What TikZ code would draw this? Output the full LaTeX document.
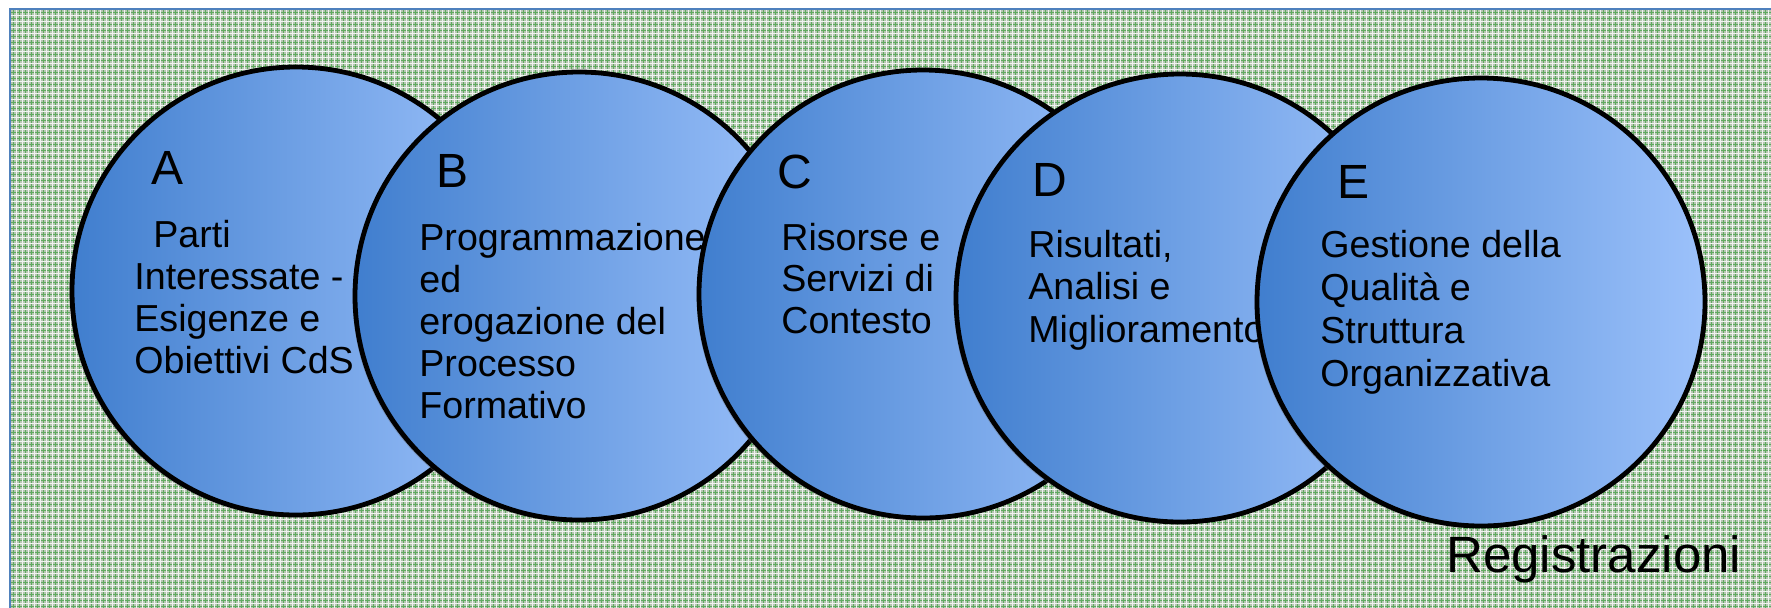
\documentclass[tikz,border=0pt]{standalone}
\usepackage{fontspec}
\setmainfont{Liberation Sans}
\usetikzlibrary{shadows}
\definecolor{cl}{RGB}{64,126,206}
\definecolor{cr}{RGB}{157,194,251}
\definecolor{bgbase}{RGB}{182,198,178}
\definecolor{gline}{RGB}{95,170,95}
\definecolor{wline}{RGB}{240,244,240}
\definecolor{frame}{RGB}{79,129,189}
\tikzset{
  disc/.style={circle,draw=black,line width=2.4pt,left color=cl,right color=cr,
    minimum size=224pt,inner sep=0pt,
    drop shadow={shadow xshift=-1.2pt,shadow yshift=-1.2pt,opacity=0.35,fill=black!60}},
  txt/.style={anchor=base west,inner sep=0pt,font=\fontsize{18.8}{21}\selectfont},
  letter/.style={anchor=base west,inner sep=0pt,font=\fontsize{24}{28}\selectfont},
  reg/.style={anchor=base west,inner sep=0pt,font=\fontsize{25.5}{30}\selectfont}
}
\begin{document}
\begin{tikzpicture}[x=0.5pt,y=-0.5pt]
\useasboundingbox (0,0) rectangle (1771,607);
\clip (0,0) rectangle (1771,607);
% background
\fill[white] (0,0) rectangle (1771,607);
\begin{scope}
\clip (10,9) rectangle (1780,616);
\fill[bgbase] (10,9) rectangle (1780,616);
\draw[gline,line width=0.5pt] foreach \x in {13,19,...,1775} {(\x,9) -- (\x,616)};
\draw[gline,line width=0.5pt] foreach \y in {12,18,...,612} {(10,\y) -- (1780,\y)};
\draw[wline,line width=0.5pt] foreach \x in {16,22,...,1775} {(\x,9) -- (\x,616)};
\draw[wline,line width=0.5pt] foreach \y in {15,21,...,612} {(10,\y) -- (1780,\y)};
\end{scope}
\draw[frame,line width=1pt] (10,9) rectangle (1780,616);

% A
\node[disc] (A) at (296,291) {};
\node[letter] (Al) at (151,184) {A};
\node[txt] (A1) at (153,247) {Parti};
\node[txt] (A2) at (134,289) {Interessate -};
\node[txt] (A3) at (134,331) {Esigenze e};
\node[txt] (A4) at (134,373) {Obiettivi CdS};
% B
\node[disc] (B) at (579,296) {};
\node[letter] (Bl) at (436,187) {B};
\foreach \t [count=\i from 0] in {Programmazione,ed,erogazione del,Processo,Formativo}
  \node[txt] (B\i) at (419,250+42*\i) {\t};
% C
\node[disc] (C) at (923,294) {};
\node[letter] (Cl) at (777,188) {C};
\foreach \t [count=\i from 0] in {Risorse e,Servizi di,Contesto}
  \node[txt] (C\i) at (781,250+41.5*\i) {\t};
% D
\node[disc] (D) at (1180,298) {};
\node[letter] (Dl) at (1032,196) {D};
\foreach \t [count=\i from 0] in {{Risultati,},Analisi e,Miglioramento}
  \node[txt] (D\i) at (1028,257+42.5*\i) {\t};
% E
\node[disc] (E) at (1481,302) {};
\node[letter] (El) at (1337,198) {E};
\foreach \t [count=\i from 0] in {Gestione della,Qualità e,Struttura,Organizzativa}
  \node[txt] (E\i) at (1320,257+43*\i) {\t};
% label
\node[reg] (R) at (1446,572) {Registrazioni};
\end{tikzpicture}
\end{document}
